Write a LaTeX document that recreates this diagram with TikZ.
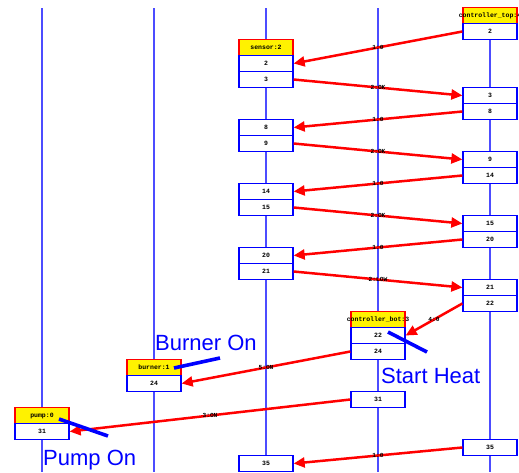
\documentclass[tikz,border=0pt]{standalone}
\usepackage{fontspec}
\setsansfont{Liberation Sans}
\setmonofont{Liberation Mono}
\usetikzlibrary{arrows.meta}
\tikzset{
  hdr/.style={draw=red,fill=yellow,line width=1.3pt,minimum width=54pt,minimum height=16pt,inner sep=0pt,font=\fontsize{6.5}{6.5}\selectfont\ttfamily\bfseries},
  act/.style={hdr,draw=blue,fill=white},
  life/.style={draw=blue!70,line width=1.3pt},
  msg/.style={draw=red,line width=2.5pt,-{Triangle[length=11pt,width=10pt]}},
  lbl/.style={inner sep=0pt,text=black,font=\fontsize{6.2}{6.2}\selectfont\ttfamily\bfseries},
  note/.style={text=blue,font=\fontsize{22}{22}\selectfont\sffamily,anchor=base west,inner sep=0pt},
  pointer/.style={draw=blue,line width=3.6pt}
}
\begin{document}
\begin{tikzpicture}[x=1pt,y=-1pt]
  \useasboundingbox (0,0) rectangle (519,472);
  % lifelines
  \foreach \c in {0,...,4}{\draw[life] (112*\c+42,8) -- (112*\c+42,472);}
  % headers: name/column/row/text (text may run past the box)
  \foreach \n/\c/\r/\t in {cth/4/0/controller\_top:4, sh/2/2/sensor:2, cbh/3/19/controller\_bot:3, bh/1/22/burner:1, ph/0/25/pump:0}
    \node[hdr] (\n) at (112*\c+42,15.5+16*\r) {\makebox[0pt]{\t}};
  % activations
  \foreach \n/\c/\r/\t in {c2/4/1/2, s2/2/3/2, s3/2/4/3, c3/4/5/3, c8/4/6/8, s8/2/7/8, s9/2/8/9, c9/4/9/9, c14/4/10/14,
      s14/2/11/14, s15/2/12/15, c15/4/13/15, c20/4/14/20, s20/2/15/20, s21/2/16/21, c21/4/17/21, c22/4/18/22,
      cb22/3/20/22, cb24/3/21/24, b24/1/23/24, cb31/3/24/31, p31/0/26/31, c35/4/27/35, s35/2/28/35}
    \node[act] (\n) at (112*\c+42,15.5+16*\r) {\t};
  % messages
  \draw[msg] (c2.west) -- node[lbl]{1:0} (s2.east);
  \draw[msg] (s3.east) -- node[lbl]{2:OK} (c3.west);
  \draw[msg] (c8.west) -- node[lbl]{1:0} (s8.east);
  \draw[msg] (s9.east) -- node[lbl]{2:OK} (c9.west);
  \draw[msg] (c14.west) -- node[lbl]{1:0} (s14.east);
  \draw[msg] (s15.east) -- node[lbl]{2:OK} (c15.west);
  \draw[msg] (c20.west) -- node[lbl]{1:0} (s20.east);
  \draw[msg] (s21.east) -- node[lbl]{2:LOW} (c21.west);
  \draw[msg] (c22.west) -- node[lbl]{4:0} (cb22.east);
  \draw[msg] (cb24.west) -- node[lbl]{5:ON} (b24.east);
  \draw[msg] (cb31.west) -- node[lbl]{3:ON} (p31.east);
  \draw[msg] (c35.west) -- node[lbl]{1:0} (s35.east);
  % notes
  \node[note] (burnOn) at (155,350) {Burner On};
  \node[note] (startHeat) at (381,383) {Start Heat};
  \node[note] (pumpOn) at (43,465) {Pump On};
  \coordinate (burnA) at (174,368); \coordinate (burnB) at (220,358);
  \coordinate (heatA) at (388,332); \coordinate (heatB) at (427,352);
  \coordinate (pumpA) at (59,419);  \coordinate (pumpB) at (108,436);
  \draw[pointer] (burnA) -- (burnB);
  \draw[pointer] (heatA) -- (heatB);
  \draw[pointer] (pumpA) -- (pumpB);
\end{tikzpicture}
\end{document}
